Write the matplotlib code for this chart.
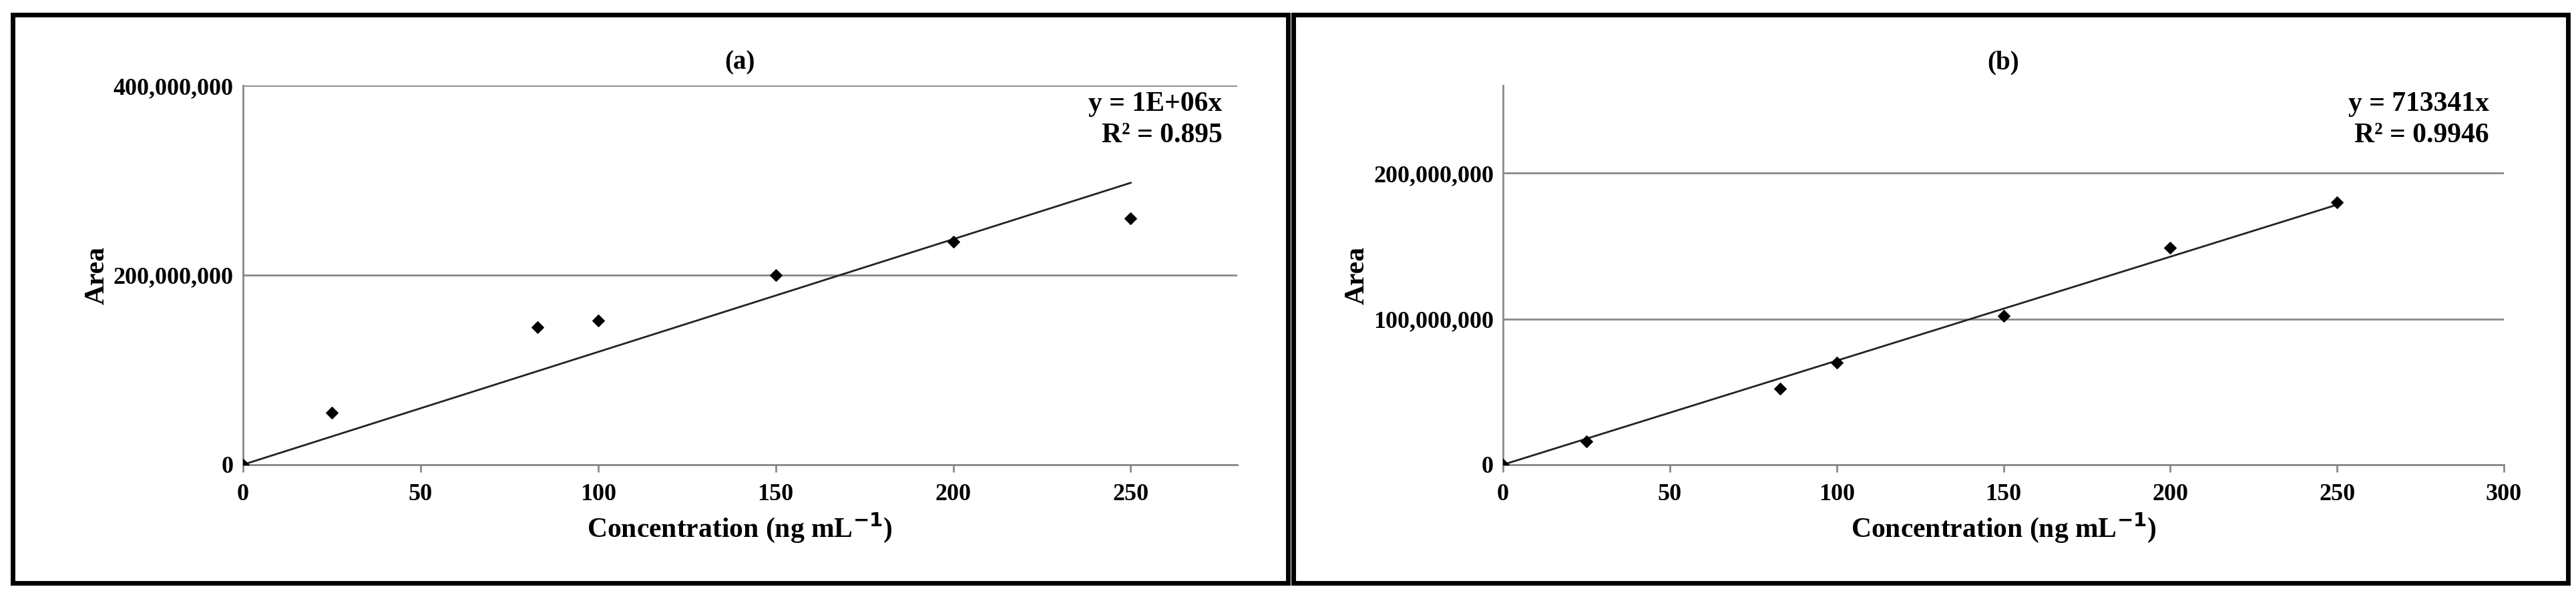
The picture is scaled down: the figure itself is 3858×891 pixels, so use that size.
import matplotlib
matplotlib.use("Agg")
import matplotlib.pyplot as plt
from matplotlib.patches import Rectangle
import numpy as np

conc = [0, 25, 83, 100, 150, 200, 250]
area_a = [0, 55e6, 145e6, 152e6, 200e6, 235e6, 260e6]
area_b = [0, 16e6, 52e6, 70e6, 102e6, 149e6, 180e6]
slope_a = 1.19e6
slope_b = 713341
eq_a = ["y = 1E+06x", "R² = 0.895"]
eq_b = ["y = 713341x", "R² = 0.9946"]

plt.rcParams['font.family'] = ['Liberation Serif', 'DejaVu Serif']
plt.rcParams['font.weight'] = 'bold'
fig = plt.figure(figsize=(38.58, 8.91), dpi=100)

for x0 in (0.005, 0.502):
    fig.patches.append(Rectangle((x0, 0.02), 0.495, 0.955, transform=fig.transFigure,
                                 fill=False, ec='black', lw=5))

def panel(rect, y, slope, xlim, xticks, ylim, yticks, title, eq):
    ax = fig.add_axes(rect)
    ax.scatter(conc, y, marker='D', s=80, color='black', zorder=3)
    xs = np.array([0, 250])
    ax.plot(xs, slope * xs, color='#222222', lw=2)
    ax.set_xlim(*xlim)
    ax.set_ylim(*ylim)
    ax.set_xticks(xticks)
    ax.set_yticks(yticks)
    ax.set_yticklabels([f"{int(v):,}" for v in yticks])
    ax.grid(axis='y', color='#888888', lw=2)
    ax.set_axisbelow(True)
    for s in ('top', 'right'):
        ax.spines[s].set_visible(False)
    for s in ('left', 'bottom'):
        ax.spines[s].set_color('#888888')
        ax.spines[s].set_linewidth(2)
    ax.tick_params(axis='x', length=8, width=2, color='#888888', labelsize=26, pad=12)
    ax.tick_params(axis='y', length=0, labelsize=26, pad=10)
    ax.set_xlabel("Concentration (ng mL$^{-1}$)", fontsize=30, fontweight='bold', labelpad=6)
    ax.set_ylabel("Area", fontsize=30, fontweight='bold')
    ax.set_title(title, fontsize=28, fontweight='bold', pad=18)
    ax.text(0.985, 0.985, eq[0] + "\n" + eq[1], transform=ax.transAxes, ha='right', va='top',
            fontsize=30, fontweight='bold', linespacing=1.3)
    return ax

panel([0.0943, 0.219, 0.386, 0.637], area_a, slope_a, (0, 280), [0, 50, 100, 150, 200, 250],
      (0, 400e6), [0, 200e6, 400e6], "(a)", eq_a)
panel([2251 / 3858, 0.219, (3750 - 2251) / 3858, 0.637], area_b, slope_b, (0, 300),
      [0, 50, 100, 150, 200, 250, 300], (0, 260e6), [0, 100e6, 200e6], "(b)", eq_b)
fig.savefig("out.png", dpi=100)
